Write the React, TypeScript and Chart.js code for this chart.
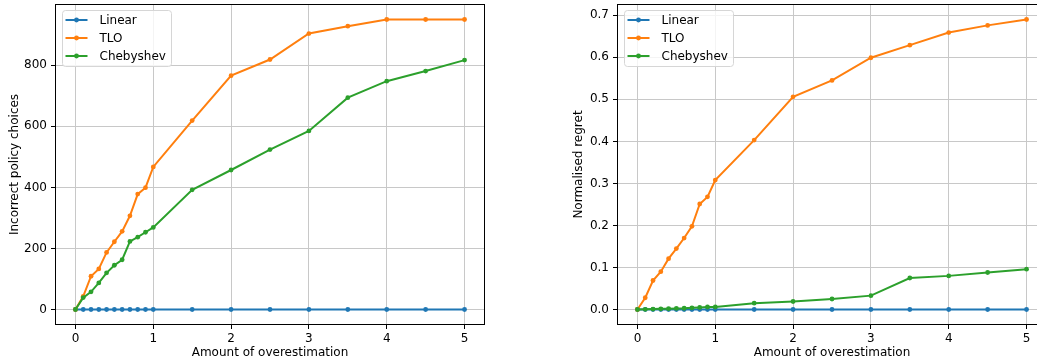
import React, { useEffect, useRef } from 'react';
import { Chart, registerables } from 'chart.js';

Chart.register(...registerables);

// ---------- data ----------
const xValues = [0, 0.1, 0.2, 0.3, 0.4, 0.5, 0.6, 0.7, 0.8, 0.9, 1, 1.5, 2, 2.5, 3, 3.5, 4, 4.5, 5];
const seriesNames = ['Linear', 'TLO', 'Chebyshev'];
const seriesColors = ['#1f77b4', '#ff7f0e', '#2ca02c'];

const leftLinear = [0, 0, 0, 0, 0, 0, 0, 0, 0, 0, 0, 0, 0, 0, 0, 0, 0, 0, 0];
const leftTLO = [0, 43, 109, 133, 187, 222, 256, 307, 378, 399, 467, 619, 766, 819, 904, 928, 950, 950, 950];
const leftChebyshev = [0, 39, 58, 87, 120, 145, 163, 223, 237, 253, 269, 392, 457, 524, 585, 694, 748, 781, 817];

const rightLinear = [0, 0, 0, 0, 0, 0, 0, 0, 0, 0, 0, 0, 0, 0, 0, 0, 0, 0, 0];
const rightTLO = [0, 0.028, 0.069, 0.09, 0.121, 0.145, 0.17, 0.198, 0.251, 0.268, 0.308, 0.403, 0.506, 0.545, 0.599, 0.629, 0.659, 0.676, 0.69];
const rightChebyshev = [0, 0.0005, 0.001, 0.0015, 0.002, 0.0025, 0.003, 0.004, 0.005, 0.006, 0.006, 0.015, 0.019, 0.025, 0.033, 0.075, 0.08, 0.088, 0.096];

const xTicks = [0, 1, 2, 3, 4, 5];
const leftYTicks = [0, 200, 400, 600, 800];
const rightYTicks = [0, 0.1, 0.2, 0.3, 0.4, 0.5, 0.6, 0.7];

const xTitle = 'Amount of overestimation';
const leftYTitle = 'Incorrect policy choices';
const rightYTitle = 'Normalised regret';

// ---------- styling ----------
const FONT = "'DejaVu Sans'";
const FS = 12;
const GRID = '#c8c8c8';

const frameLegendPlugin = {
  id: 'frameLegend',
  afterDatasetsDraw(chart: any) {
    const { ctx, chartArea } = chart;
    const { left, right, top, bottom } = chartArea;
    ctx.save();
    ctx.strokeStyle = '#000';
    ctx.lineWidth = 1;
    ctx.strokeRect(Math.round(left) - 0.5, Math.round(top) - 0.5, Math.round(right - left) + 1, Math.round(bottom - top) + 1);
    ctx.restore();
  },
  afterDraw(chart: any) {
    const { ctx, chartArea } = chart;
    const bx = Math.round(chartArea.left) + 6.5;
    const by = Math.round(chartArea.top) + 5.5;
    const bw = 109;
    const bh = 56;
    const r = 3;
    ctx.save();
    ctx.beginPath();
    ctx.moveTo(bx + r, by);
    ctx.lineTo(bx + bw - r, by);
    ctx.arcTo(bx + bw, by, bx + bw, by + r, r);
    ctx.lineTo(bx + bw, by + bh - r);
    ctx.arcTo(bx + bw, by + bh, bx + bw - r, by + bh, r);
    ctx.lineTo(bx + r, by + bh);
    ctx.arcTo(bx, by + bh, bx, by + bh - r, r);
    ctx.lineTo(bx, by + r);
    ctx.arcTo(bx, by, bx + r, by, r);
    ctx.closePath();
    ctx.fillStyle = 'rgba(255,255,255,0.8)';
    ctx.fill();
    ctx.strokeStyle = '#d6d6d6';
    ctx.lineWidth = 1;
    ctx.stroke();
    ctx.font = `${FS}px ${FONT}`;
    ctx.textBaseline = 'middle';
    ctx.textAlign = 'left';
    seriesNames.forEach((name, i) => {
      const y = by + 9.5 + i * 18;
      ctx.strokeStyle = seriesColors[i];
      ctx.lineWidth = 2;
      ctx.beginPath();
      ctx.moveTo(bx + 3, y);
      ctx.lineTo(bx + 25, y);
      ctx.stroke();
      ctx.fillStyle = seriesColors[i];
      ctx.beginPath();
      ctx.arc(bx + 14, y, 2.4, 0, Math.PI * 2);
      ctx.fill();
      ctx.fillStyle = '#000';
      ctx.fillText(name, bx + 37, y + 0.5);
    });
    ctx.restore();
  },
};

type PanelProps = {
  series: number[][];
  yTitle: string;
  yMin: number;
  yMax: number;
  yTicks: number[];
  decimals: number;
  yAxisWidth: number;
  yTitlePad: number;
  padRight: number;
  width: number;
  left: number;
};

function Panel(p: PanelProps) {
  const ref = useRef<HTMLCanvasElement>(null);
  useEffect(() => {
    if (!ref.current) return;
    const orders = [2, 1, 0];
    const chart = new Chart(ref.current, {
      type: 'line',
      data: {
        datasets: p.series.map((vals, i) => ({
          label: seriesNames[i],
          data: xValues.map((x, j) => ({ x, y: vals[j] })),
          borderColor: seriesColors[i],
          backgroundColor: seriesColors[i],
          borderWidth: 2,
          pointRadius: 2.4,
          pointBorderWidth: 0,
          pointBackgroundColor: seriesColors[i],
          tension: 0,
          order: orders[i],
        })),
      },
      options: {
        animation: false,
        responsive: false,
        events: [],
        layout: { padding: { left: 0, top: 5, right: p.padRight, bottom: 0 } },
        plugins: { legend: { display: false }, tooltip: { enabled: false } },
        scales: {
          x: {
            type: 'linear',
            min: -0.25,
            max: 5.25,
            afterBuildTicks: (s: any) => {
              s.ticks = xTicks.map((v) => ({ value: v }));
            },
            afterFit: (s: any) => {
              s.height = 40;
              s.paddingLeft = 0;
              s.paddingRight = 0;
              s.paddingTop = 0;
              s.paddingBottom = 0;
            },
            ticks: {
              color: '#000',
              font: { family: FONT, size: FS },
              padding: 3,
              maxRotation: 0,
              callback: (v: any) => String(v),
            },
            grid: { color: GRID, lineWidth: 1, tickColor: '#000', tickLength: 5 },
            border: { display: false },
            title: {
              display: true,
              text: xTitle,
              color: '#000',
              font: { family: FONT, size: FS },
              padding: { top: 0, bottom: 4.2 },
            },
          },
          y: {
            type: 'linear',
            min: p.yMin,
            max: p.yMax,
            afterBuildTicks: (s: any) => {
              s.ticks = p.yTicks.map((v) => ({ value: v }));
            },
            afterFit: (s: any) => {
              s.width = p.yAxisWidth;
              s.paddingLeft = 0;
              s.paddingRight = 0;
              s.paddingTop = 0;
              s.paddingBottom = 0;
            },
            ticks: {
              color: '#000',
              font: { family: FONT, size: FS },
              padding: 4,
              callback: (v: any) => Number(v).toFixed(p.decimals),
            },
            grid: { color: GRID, lineWidth: 1, tickColor: '#000', tickLength: 5 },
            border: { display: false },
            title: {
              display: true,
              text: p.yTitle,
              color: '#000',
              font: { family: FONT, size: FS },
              padding: { top: p.yTitlePad, bottom: 0 },
            },
          },
        },
      },
      plugins: [frameLegendPlugin],
    });
    return () => chart.destroy();
  }, []);
  return (
    <canvas
      ref={ref}
      width={p.width}
      height={364}
      style={{ position: 'absolute', left: p.left, top: 0, width: p.width, height: 364 }}
    />
  );
}

export default function App() {
  return (
    <div
      style={{
        position: 'fixed',
        left: 0,
        top: 0,
        width: 1037,
        height: 364,
        overflow: 'hidden',
        background: '#fff',
      }}
    >
      <Panel
        series={[leftLinear, leftTLO, leftChebyshev]}
        yTitle={leftYTitle}
        yMin={-47.5}
        yMax={997.5}
        yTicks={leftYTicks}
        decimals={0}
        yAxisWidth={56}
        yTitlePad={8}
        padRight={16}
        width={500}
        left={0}
      />
      <Panel
        series={[rightLinear, rightTLO, rightChebyshev]}
        yTitle={rightYTitle}
        yMin={-0.0345}
        yMax={0.7245}
        yTicks={rightYTicks}
        decimals={1}
        yAxisWidth={58}
        yTitlePad={11.3}
        padRight={14}
        width={500}
        left={560}
      />
    </div>
  );
}
